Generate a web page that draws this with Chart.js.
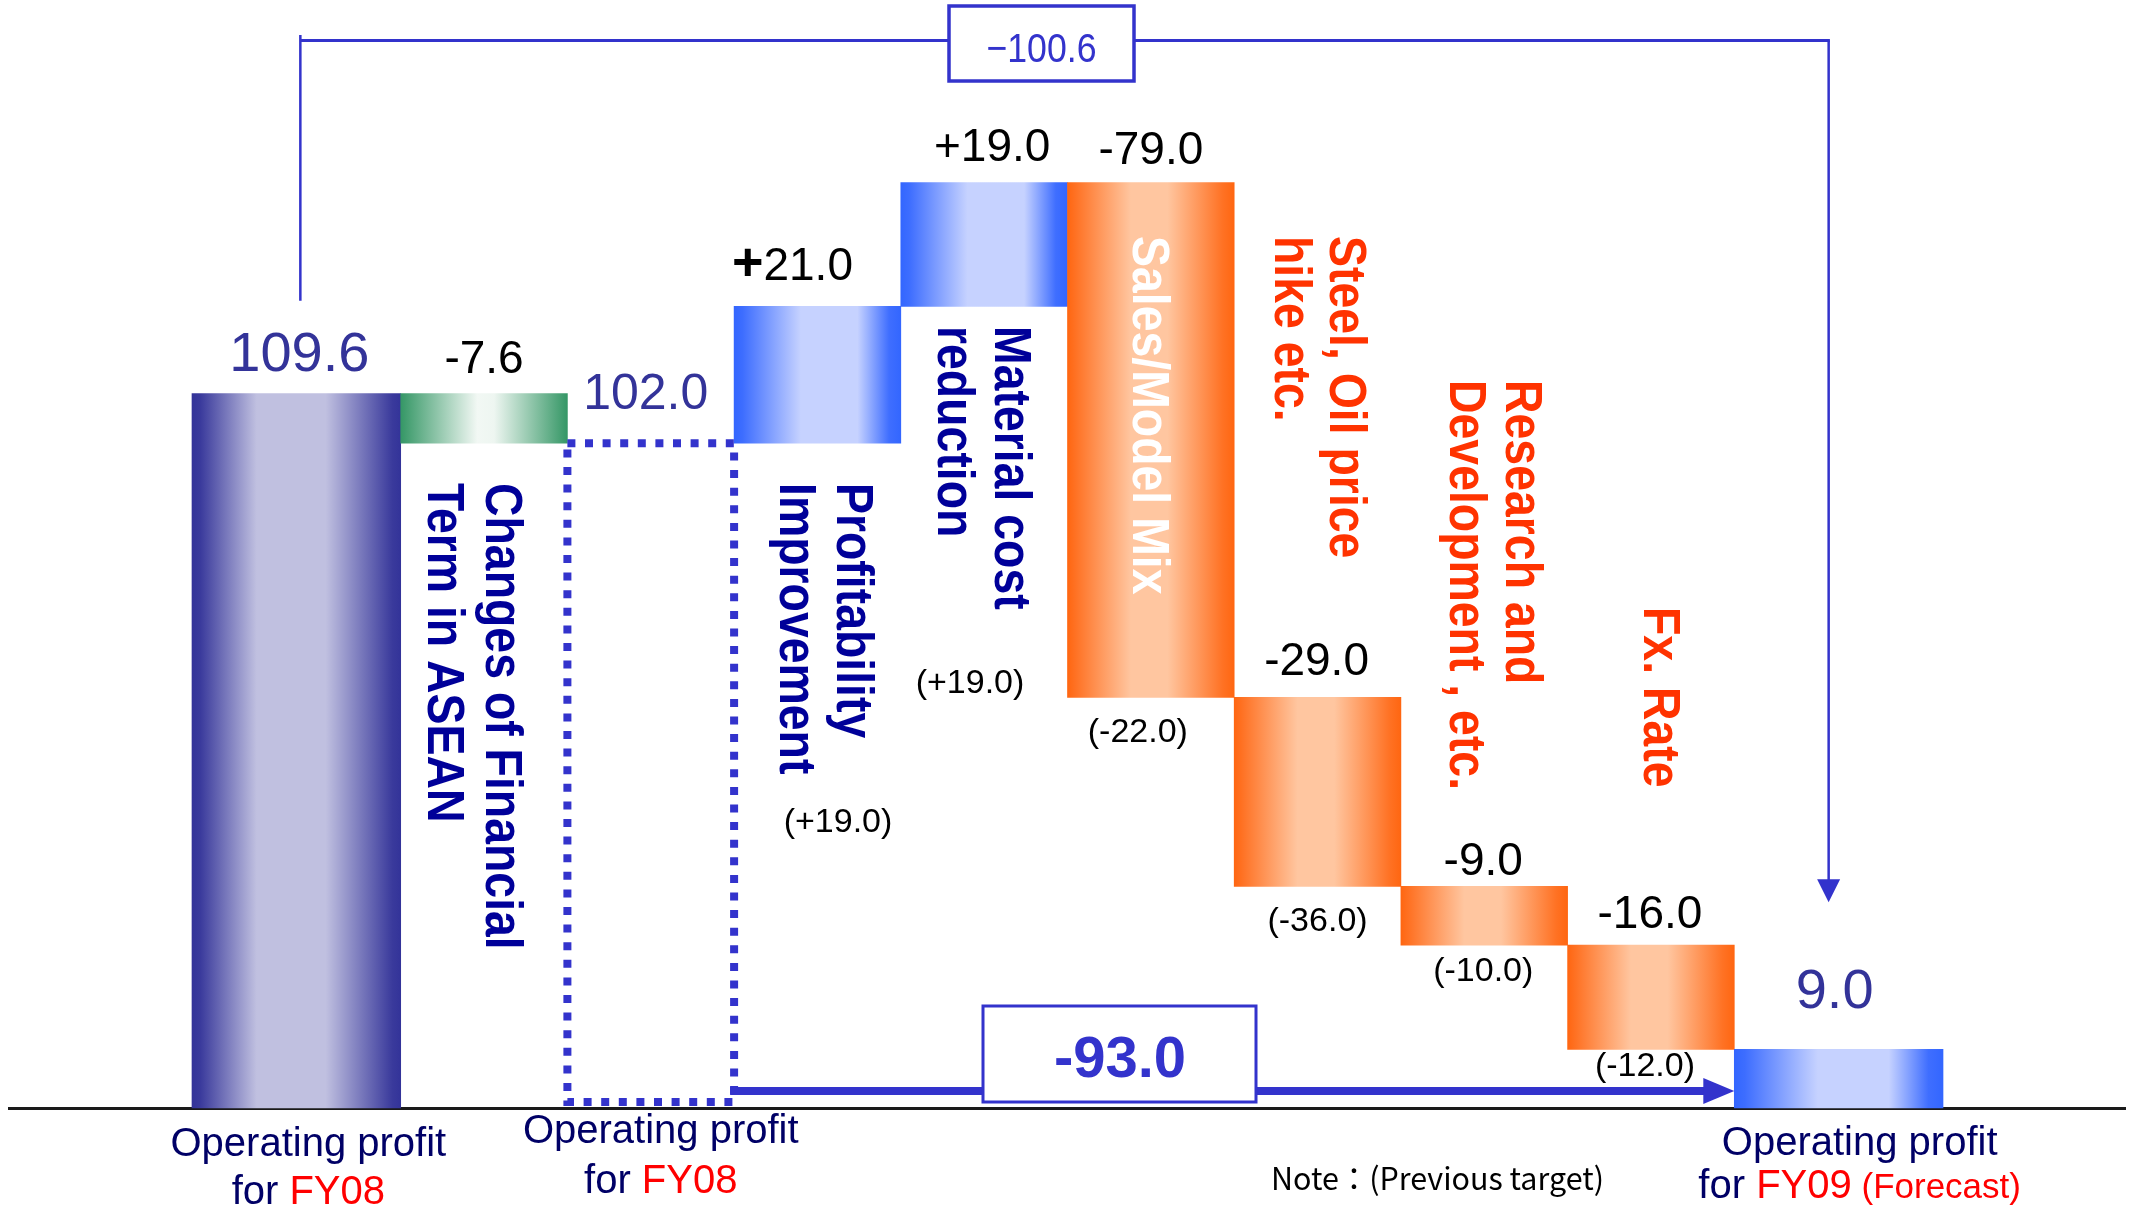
<!DOCTYPE html>
<html>
<head>
<meta charset="utf-8">
<title>Operating profit bridge FY08 to FY09</title>
<script src="https://cdn.jsdelivr.net/npm/chart.js@4.4.1/dist/chart.umd.min.js"></script>
<style>
  html, body { margin: 0; padding: 0; background: #ffffff; }
  #wrap { width: 2134px; height: 1212px; position: relative; }
  canvas { display: block; }
</style>
</head>
<body>
<div id="wrap"><canvas id="chart" width="2134" height="1212"></canvas></div>
<script>
// ---- data -------------------------------------------------------------
const categories = [
  'Operating profit\nfor FY08',
  'Changes of Financial\nTerm in ASEAN',
  'Operating profit\nfor FY08',
  'Profitability\nImprovement',
  'Material cost\nreduction',
  'Sales/Model Mix',
  'Steel, Oil price\nhike etc.',
  'Research and\nDevelopment , etc.',
  'Fx. Rate',
  'Operating profit\nfor FY09 (Forecast)'
];
// 'total' bars stand on zero, 'delta' bars float on the running total
const barKinds = ['total', 'delta', 'total', 'delta', 'delta', 'delta', 'delta', 'delta', 'delta', 'total'];
const barValues = [109.6, -7.6, 102.0, 21.0, 19.0, -79.0, -29.0, -9.0, -16.0, 9.0];
// previous target of each factor, shown in brackets
const previousTarget = [null, null, null, 19.0, 19.0, -22.0, -36.0, -10.0, -12.0, null];
const totalChange = -100.6;    // FY08 -> FY09 forecast
const adjustedChange = -93.0;  // adjusted FY08 -> FY09 forecast
const noteText = 'Note\uFF1A(Previous target)';

// ---- floating ranges built from the values ----------------------------
const round1 = v => Math.round(v * 10) / 10;
let running = 0;
const ranges = barValues.map((v, i) => {
  if (barKinds[i] === 'total') { running = v; return [0, v]; }
  const next = round1(running + v);
  const r = [Math.min(running, next), Math.max(running, next)];
  running = next;
  return r;
});

// ---- styles -----------------------------------------------------------
const FONT = "'Liberation Sans', Arial, Helvetica, sans-serif";
const BLUE_LINE = '#3333cc';
const barStyles = ['navy', 'green', 'outline', 'blue', 'blue', 'orange', 'orange', 'orange', 'orange', 'blue'];
const gradientStops = {
  navy:   [[0, '#333399'], [0.04, '#3a3a9c'], [0.31, '#c0c0e0'], [0.64, '#c0c0e0'], [0.96, '#3a3a9c'], [1, '#333399']],
  green:  [[0, '#359766'], [0.46, '#f2f8f4'], [0.56, '#eef6f1'], [1, '#359766']],
  blue:   [[0, '#3366ff'], [0.05, '#3d6dff'], [0.4, '#c6d2ff'], [0.74, '#c6d2ff'], [0.93, '#3f6eff'], [1, '#3366ff']],
  orange: [[0, '#ff6611'], [0.05, '#ff7224'], [0.38, '#ffc6a0'], [0.6, '#ffc6a0'], [0.93, '#ff7224'], [1, '#ff6611']]
};
const END_WIDTH = 1.252; // the two outer totals are drawn wider than the factor bars

function barSpan(chart, i) {
  const xs = chart.scales.x;
  const w = xs.width / categories.length;
  const c = xs.getPixelForValue(i);
  let l = c - w / 2, r = c + w / 2;
  if (i === 0) l = r - w * END_WIDTH;
  if (i === categories.length - 1) r = l + w * END_WIDTH;
  return [l, r];
}

function fmtDelta(v) { return (v > 0 ? '+' : '') + v.toFixed(1); }

function drawText(ctx, str, x, y, font, color, align, baseline, sx) {
  ctx.save();
  ctx.font = font;
  ctx.fillStyle = color;
  ctx.textAlign = align || 'center';
  ctx.textBaseline = baseline || 'alphabetic';
  ctx.translate(x, y);
  ctx.scale(sx || 1, 1);
  ctx.fillText(str, 0, 0);
  ctx.restore();
}

// vertical captions, read top to bottom
function drawVertical(ctx, lines, x, y, pitch, color) {
  ctx.save();
  ctx.font = 'bold 51px ' + FONT;
  ctx.fillStyle = color;
  ctx.textAlign = 'left';
  ctx.textBaseline = 'alphabetic';
  lines.forEach((ln, k) => {
    ctx.save();
    ctx.translate(x - k * pitch, y);
    ctx.rotate(Math.PI / 2);
    ctx.scale(0.91, 1);
    ctx.fillText(ln, 0, 0);
    ctx.restore();
  });
  ctx.restore();
}

// label placement
const valueLabelStyle = [
  { dx: 3,   gap: 23,   size: 56, color: '#333399' },
  { dx: 0,   gap: 21,   size: 46, color: '#000000' },
  { dx: -5,  gap: 34,   size: 50, color: '#333399' },
  { dx: -25, gap: 26,   size: 46, color: '#000000', boldSign: true },
  { dx: 8,   gap: 21,   size: 46, color: '#000000' },
  { dx: 0,   gap: 18,   size: 46, color: '#000000' },
  { dx: -1,  gap: 22,   size: 46, color: '#000000' },
  { dx: -1,  gap: 11.5, size: 46, color: '#000000' },
  { dx: -1,  gap: 17,   size: 46, color: '#000000' },
  { dx: -4,  gap: 41,   size: 56, color: '#333399' }
];
const previousLabelPos = [null, null, null,
  { at: [838, 823] }, { at: [970, 684] },
  { dx: -13, gap: 35 }, { dx: 0, gap: 35 }, { dx: -1, gap: 27 }, { dx: -6, gap: 17 }, null];
const sideNotes = [
  { i: 1, x: 486,    y: 483, pitch: 58,   color: '#000099' },
  { i: 3, x: 837,    y: 483, pitch: 57,   color: '#000099' },
  { i: 4, x: 995,    y: 326, pitch: 57,   color: '#000099' },
  { i: 5, x: 1132.5, y: 236, pitch: 57,   color: '#ffffff' },
  { i: 6, x: 1330,   y: 236, pitch: 55,   color: '#ff3300' },
  { i: 7, x: 1506,   y: 380, pitch: 56.5, color: '#ff3300' },
  { i: 8, x: 1644,   y: 607, pitch: 57,   color: '#ff3300' }
];
const footLabels = {
  0: { dx: 12, y1: 1156, y2: 1204 },
  2: { dx: 10, y1: 1143, y2: 1193 },
  9: { dx: 21, y1: 1155, y2: 1198 }
};

// ---- plugins ----------------------------------------------------------
function widen(chart) {
  const meta = chart.getDatasetMeta(0);
  [0, categories.length - 1].forEach(i => {
    const el = meta.data[i];
    if (!el) return;
    const [l, r] = barSpan(chart, i);
    el.x = (l + r) / 2;
    el.width = r - l;
  });
}
const widenEnds = {
  id: 'widenEnds',
  afterDatasetsUpdate(chart) { widen(chart); },
  beforeDatasetsDraw(chart) { widen(chart); }
};

const baseline = {
  id: 'baseline',
  beforeDatasetsDraw(chart) {
    const ctx = chart.ctx;
    const y0 = chart.scales.y.getPixelForValue(0) + 0.5;
    ctx.save();
    ctx.strokeStyle = '#1a1a1a';
    ctx.lineWidth = 3;
    ctx.beginPath();
    ctx.moveTo(8, y0);
    ctx.lineTo(2126, y0);
    ctx.stroke();
    ctx.restore();
  }
};

const annotations = {
  id: 'annotations',
  afterDatasetsDraw(chart) {
    const ctx = chart.ctx;
    const meta = chart.getDatasetMeta(0);
    const xs = chart.scales.x;
    const ys = chart.scales.y;
    const W = xs.width / categories.length;
    const y0 = ys.getPixelForValue(0);
    const topOf = el => Math.min(el.y, el.base);
    const botOf = el => Math.max(el.y, el.base);

    // adjusted FY08 total: dotted outline
    const dEl = meta.data[2];
    const dl = dEl.x - W / 2, dr = dEl.x + W / 2;
    ctx.save();
    ctx.strokeStyle = BLUE_LINE;
    ctx.lineWidth = 8;
    ctx.setLineDash([8, 9.6]);
    ctx.strokeRect(dl, topOf(dEl), dr - dl, botOf(dEl) - 6 - topOf(dEl));
    ctx.restore();

    // value labels above the bars
    meta.data.forEach((el, i) => {
      const st = valueLabelStyle[i];
      const txt = barKinds[i] === 'total' ? barValues[i].toFixed(1) : fmtDelta(barValues[i]);
      const x = el.x + st.dx, y = topOf(el) - st.gap;
      if (st.boldSign && txt[0] === '+') {
        const rest = txt.slice(1);
        ctx.save();
        ctx.font = 'bold 54px ' + FONT;
        const w1 = ctx.measureText('+').width;
        ctx.font = st.size + 'px ' + FONT;
        const w2 = ctx.measureText(rest).width;
        ctx.restore();
        const sx = x - (w1 + w2) / 2;
        drawText(ctx, '+', sx, y, 'bold 54px ' + FONT, st.color, 'left');
        drawText(ctx, rest, sx + w1, y, st.size + 'px ' + FONT, st.color, 'left');
      } else {
        drawText(ctx, txt, x, y, st.size + 'px ' + FONT, st.color);
      }
    });

    // previous targets in brackets
    previousTarget.forEach((v, i) => {
      if (v === null) return;
      const p = previousLabelPos[i];
      const el = meta.data[i];
      const x = p.at ? p.at[0] : el.x + p.dx;
      const y = p.at ? p.at[1] : botOf(el) + p.gap;
      drawText(ctx, '(' + fmtDelta(v) + ')', x, y, '34px ' + FONT, '#000000', 'center', 'middle');
    });

    // vertical factor captions
    sideNotes.forEach(n => drawVertical(ctx, categories[n.i].split('\n'), n.x, n.y, n.pitch, n.color));

    // captions under the totals
    Object.keys(footLabels).forEach(k => {
      const i = +k;
      const f = footLabels[i];
      const cx = meta.data[i].x + f.dx;
      const [l1, l2] = categories[i].split('\n');
      drawText(ctx, l1, cx, f.y1, '40px ' + FONT, '#000066');
      const m = l2.match(/^(\S+ )(\S+)(.*)$/);
      const parts = [
        { t: m[1], c: '#000066', s: 40 },
        { t: m[2], c: '#ff0000', s: 40 },
        { t: m[3], c: '#ff0000', s: 35 }
      ].filter(p => p.t.length);
      ctx.save();
      let total = 0;
      parts.forEach(p => { ctx.font = p.s + 'px ' + FONT; p.w = ctx.measureText(p.t).width; total += p.w; });
      ctx.restore();
      let x = cx - total / 2;
      parts.forEach(p => { drawText(ctx, p.t, x, f.y2, p.s + 'px ' + FONT, p.c, 'left'); x += p.w; });
    });

    // overall change bracket along the top
    const lx = meta.data[0].x + 4;
    const rx = meta.data[9].x - 10;
    const yTop = 40.5;
    const tip = topOf(meta.data[9]) - 147;
    ctx.save();
    ctx.strokeStyle = BLUE_LINE;
    ctx.fillStyle = BLUE_LINE;
    ctx.lineWidth = 2.5;
    ctx.beginPath();
    ctx.moveTo(lx, 35); ctx.lineTo(lx, topOf(meta.data[0]) - 93);
    ctx.moveTo(rx, yTop); ctx.lineTo(rx, tip - 22);
    ctx.stroke();
    ctx.lineWidth = 3;
    ctx.beginPath();
    ctx.moveTo(lx, yTop); ctx.lineTo(rx + 1.25, yTop);
    ctx.stroke();
    ctx.beginPath();
    ctx.moveTo(rx - 11.5, tip - 23); ctx.lineTo(rx + 11.5, tip - 23); ctx.lineTo(rx, tip);
    ctx.closePath(); ctx.fill();
    ctx.fillStyle = '#ffffff';
    ctx.fillRect(949, 6, 185, 75);
    ctx.lineWidth = 3.5;
    ctx.strokeRect(949, 6, 185, 75);
    ctx.restore();
    const tc = (totalChange < 0 ? '\u2212' : '+') + Math.abs(totalChange).toFixed(1);
    drawText(ctx, tc, 1041.5, 61.7, '41px ' + FONT, BLUE_LINE, 'center', 'alphabetic', 0.87);

    // adjusted change arrow along the bottom
    const ay = y0 - 17;
    const endL = meta.data[9].x - meta.data[9].width / 2;
    ctx.save();
    ctx.strokeStyle = BLUE_LINE;
    ctx.fillStyle = BLUE_LINE;
    ctx.lineWidth = 8;
    ctx.beginPath();
    ctx.moveTo(dr - 4, ay); ctx.lineTo(endL - 28, ay);
    ctx.stroke();
    ctx.beginPath();
    ctx.moveTo(endL - 31, ay - 13); ctx.lineTo(endL, ay); ctx.lineTo(endL - 31, ay + 13);
    ctx.closePath(); ctx.fill();
    ctx.fillStyle = '#ffffff';
    ctx.fillRect(983, 1006, 273, 96);
    ctx.lineWidth = 3;
    ctx.strokeRect(983, 1006, 273, 96);
    ctx.restore();
    drawText(ctx, adjustedChange.toFixed(1), 1120, 1077, 'bold 58px ' + FONT, BLUE_LINE);

    // note
    ctx.save();
    ctx.font = "31px 'Noto Sans CJK JP', 'Noto Sans', sans-serif";
    const nw = ctx.measureText(noteText).width;
    ctx.restore();
    drawText(ctx, noteText, 1271, 1190, "31px 'Noto Sans CJK JP', 'Noto Sans', sans-serif", '#000000', 'left', 'alphabetic', 333 / nw);
  }
};

// ---- chart ------------------------------------------------------------
new Chart(document.getElementById('chart'), {
  type: 'bar',
  data: {
    labels: categories.map(c => c.replace('\n', ' ')),
    datasets: [{
      data: ranges,
      clip: false,
      barPercentage: 1,
      categoryPercentage: 1,
      borderWidth: 0,
      backgroundColor: (ctx) => {
        if (ctx.type !== 'data') return 'rgba(0,0,0,0)';
        const stops = gradientStops[barStyles[ctx.dataIndex]];
        if (!stops) return 'rgba(0,0,0,0)';
        const chart = ctx.chart;
        if (!chart.chartArea || !chart.scales.x) return stops[0][1];
        const [l, r] = barSpan(chart, ctx.dataIndex);
        const g = chart.ctx.createLinearGradient(l, 0, r, 0);
        stops.forEach(([o, c]) => g.addColorStop(o, c));
        return g;
      }
    }]
  },
  options: {
    responsive: false,
    devicePixelRatio: 1,
    animation: false,
    events: [],
    layout: { padding: { left: 234, right: 233, top: 0, bottom: 104 } },
    plugins: { legend: { display: false }, tooltip: { enabled: false }, title: { display: false } },
    scales: {
      x: { type: 'category', display: false, offset: true, grid: { display: false } },
      y: { type: 'linear', display: false, min: 0, max: 170, grid: { display: false } }
    }
  },
  plugins: [widenEnds, baseline, annotations]
});
</script>
</body>
</html>
